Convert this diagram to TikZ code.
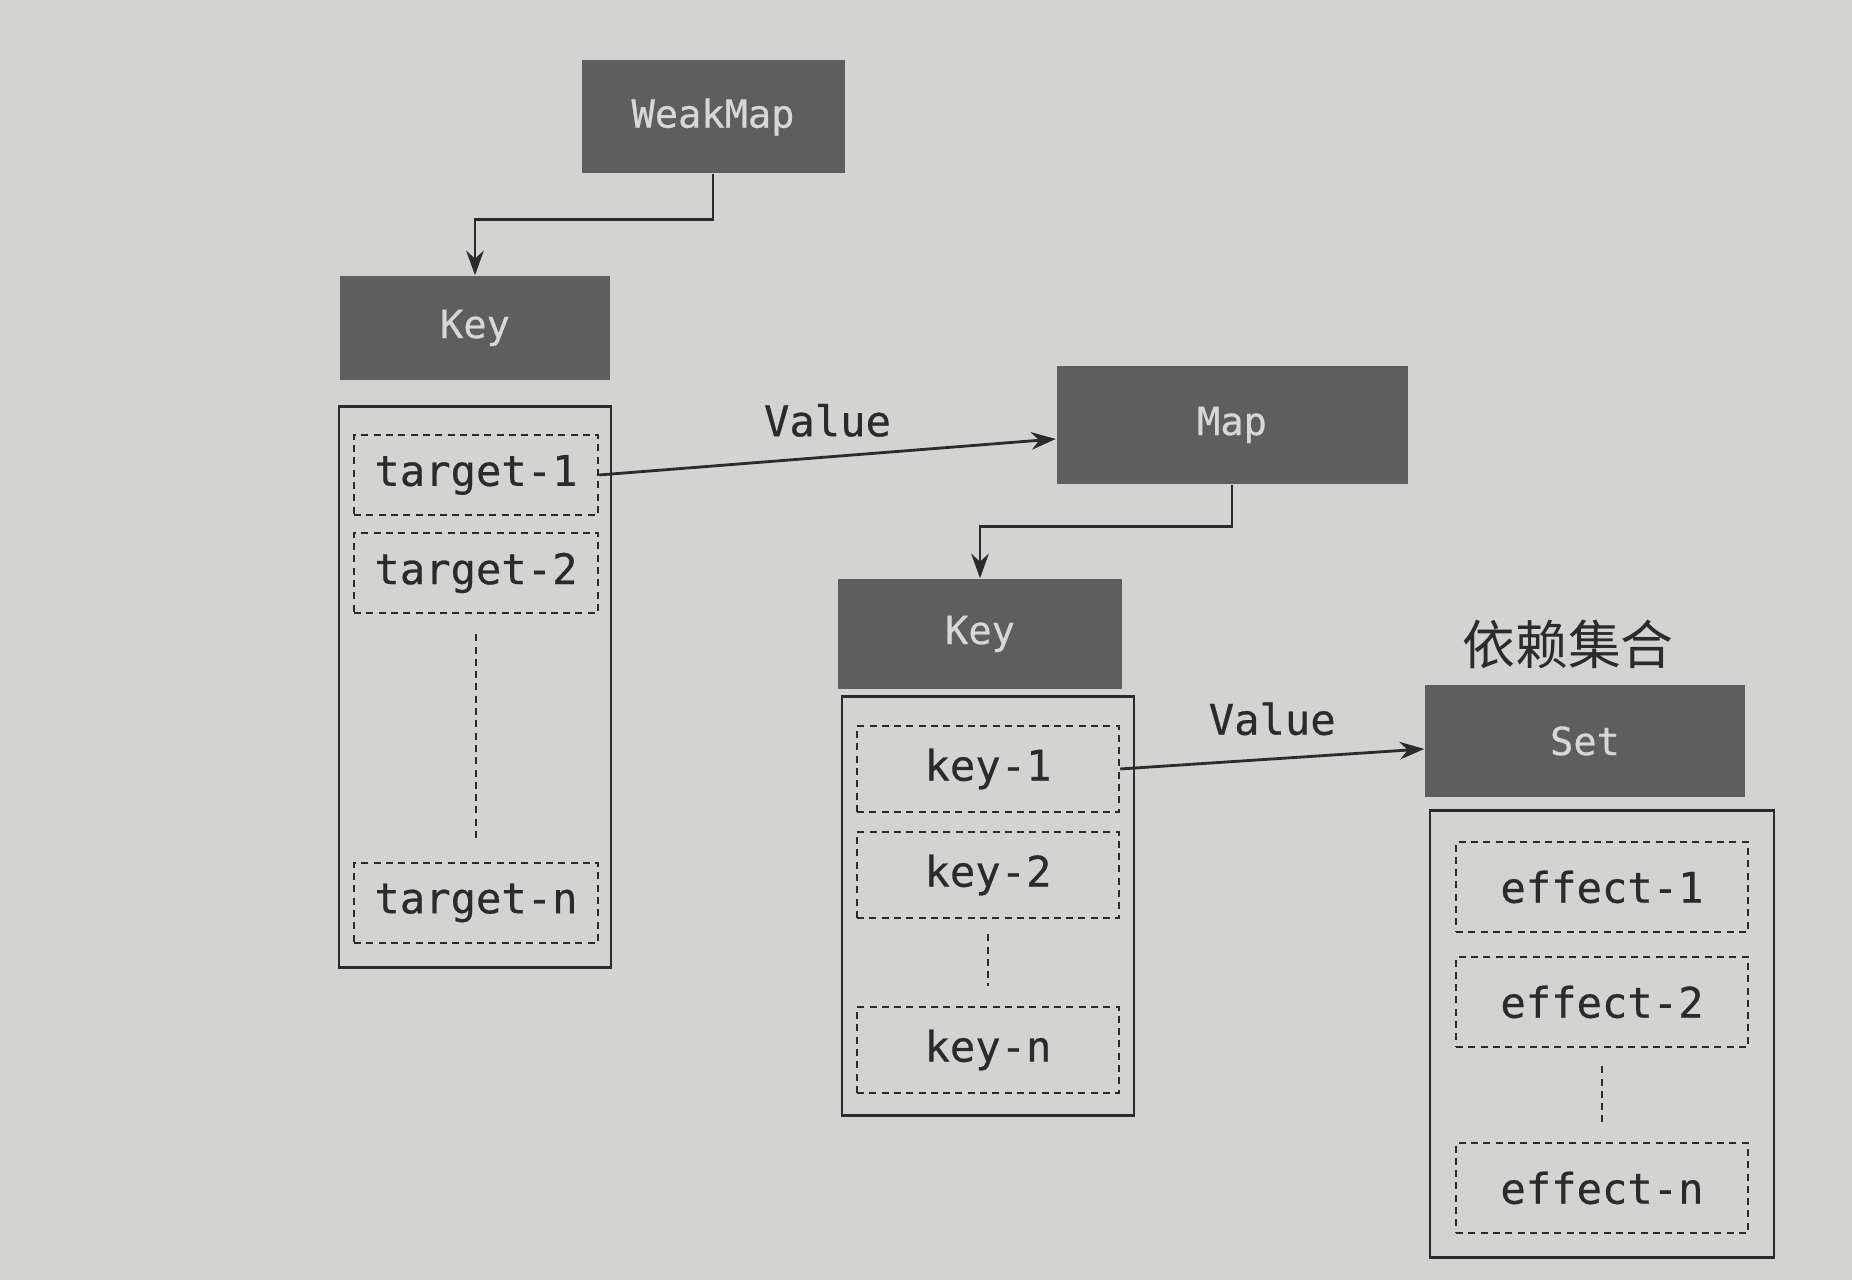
\documentclass[tikz,border=0pt]{standalone}
\usepackage{fontspec}
\setmonofont{DejaVu Sans Mono}
\newfontfamily\boxfont[FakeBold=0.6]{DejaVu Sans Mono}
\newfontfamily\cjk{Noto Sans CJK SC}
\usetikzlibrary{arrows.meta}
\definecolor{paper}{HTML}{D3D3D1}
\definecolor{boxgray}{HTML}{5E5E5E}
\definecolor{ink}{HTML}{2B2B2B}

\begin{document}
\begin{tikzpicture}[font=\boxfont, ink,
    head/.style = {fill=boxgray, text=paper!90!white, font=\boxfont\fontsize{11}{13}\selectfont, inner sep=0pt},
    frame/.style = {draw=ink, line width=0.7pt, inner sep=0pt},
    item/.style = {draw=ink, dash pattern=on 2pt off 1.5pt, line width=0.7pt, font=\boxfont\fontsize{12}{14}\selectfont, inner sep=0pt},
    gap/.style = {draw=ink, dash pattern=on 2pt off 1.5pt, line width=0.7pt},
    link/.style = {draw=ink, line width=0.8pt, -{Stealth[length=7pt, width=5pt]}}]

    \fill[paper] (0, 0) rectangle (18.52, 12.8);

    \node [head, minimum width=2.63cm, minimum height=1.13cm] (weakmap) at (7.13, 11.63) {WeakMap};
    \node [head, minimum width=2.70cm, minimum height=1.04cm] (key1) at (4.75, 9.52) {Key};
    \node [frame, minimum width=2.72cm, minimum height=5.61cm] (targets) at (4.75, 5.93) {};
    \node [item, minimum width=2.44cm, minimum height=0.80cm] (t1) at (4.76, 8.05) {target-1};
    \node [item, minimum width=2.44cm, minimum height=0.80cm] (t2) at (4.76, 7.07) {target-2};
    \node [item, minimum width=2.44cm, minimum height=0.80cm] (tn) at (4.76, 3.77) {target-n};

    \node [head, minimum width=3.51cm, minimum height=1.18cm] (map) at (12.32, 8.55) {Map};
    \node [head, minimum width=2.84cm, minimum height=1.10cm] (key2) at (9.80, 6.46) {Key};
    \node [frame, minimum width=2.92cm, minimum height=4.19cm] (keys) at (9.88, 3.74) {};
    \node [item, minimum width=2.62cm, minimum height=0.86cm] (k1) at (9.88, 5.11) {key-1};
    \node [item, minimum width=2.62cm, minimum height=0.86cm] (k2) at (9.88, 4.05) {key-2};
    \node [item, minimum width=2.62cm, minimum height=0.86cm] (kn) at (9.88, 2.30) {key-n};

    \node [font=\cjk\fontsize{15}{17}\selectfont] (deps) at (15.68, 6.36) {依赖集合};
    \node [head, minimum width=3.20cm, minimum height=1.12cm] (set) at (15.85, 5.39) {Set};
    \node [frame, minimum width=3.44cm, minimum height=4.47cm] (effects) at (16.02, 2.46) {};
    \node [item, minimum width=2.92cm, minimum height=0.90cm] (e1) at (16.02, 3.93) {effect-1};
    \node [item, minimum width=2.92cm, minimum height=0.90cm] (e2) at (16.02, 2.78) {effect-2};
    \node [item, minimum width=2.92cm, minimum height=0.90cm] (en) at (16.02, 0.92) {effect-n};

    \draw[link] (weakmap.south) -- ++(0, -0.45) -| (key1.north);
    \draw[link] (map.south) -- ++(0, -0.42) -| (key2.north);
    \draw[link] (t1.east) -- node[midway, above=2pt, font=\boxfont\fontsize{12}{14}\selectfont] {Value} ([yshift=-0.14cm]map.west);
    \draw[link] (k1.east) -- node[midway, above=3pt, font=\boxfont\fontsize{12}{14}\selectfont] {Value} ([yshift=-0.08cm]set.west);

    \draw[gap] ([yshift=-0.2cm]t2.south) -- ([yshift=0.2cm]tn.north);
    \draw[gap] ([yshift=-0.15cm]k2.south) -- ([yshift=0.2cm]kn.north);
    \draw[gap] ([yshift=-0.18cm]e2.south) -- ([yshift=0.15cm]en.north);

\end{tikzpicture}
\end{document}
